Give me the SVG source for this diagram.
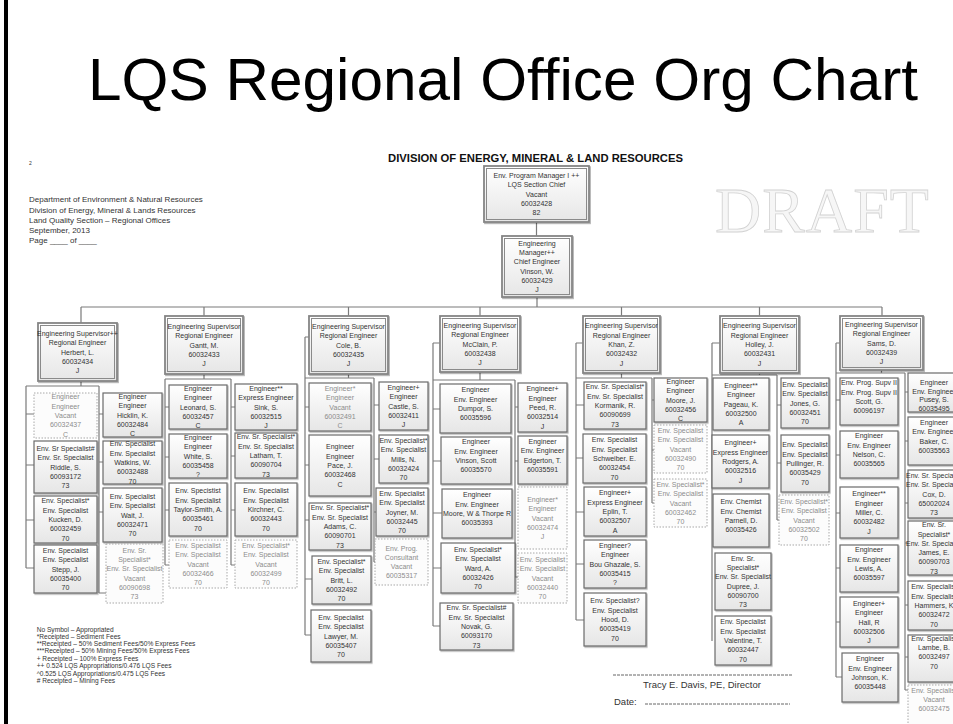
<svg xmlns="http://www.w3.org/2000/svg" width="953" height="724" viewBox="0 0 953 724">
<defs>
<linearGradient id="g" x1="0" y1="0" x2="0" y2="1"><stop offset="0" stop-color="#ffffff"/><stop offset="1" stop-color="#e6e6e6"/></linearGradient>
<filter id="sh" x="-10%" y="-10%" width="125%" height="125%"><feDropShadow dx="1" dy="1.2" stdDeviation="0.7" flood-color="#000" flood-opacity="0.3"/></filter>
</defs>
<style>
.t{font-family:"Liberation Sans",Arial,sans-serif;font-size:7px;fill:#333;text-anchor:middle}
.v{fill:#8c8c8c}
.bx{fill:url(#g);stroke:#6a6a6a;stroke-width:1.2;filter:url(#sh)}
.dv{fill:#fcfcfc;stroke:#a8a8a8;stroke-width:1;stroke-dasharray:1.5 1.5}
.so{fill:url(#g);stroke:#858585;stroke-width:1.8;filter:url(#sh)}
.si{fill:none;stroke:#8a8a8a;stroke-width:1}
.c{fill:none;stroke:#7a7a7a;stroke-width:1.2}
.h{font-family:"Liberation Sans",Arial,sans-serif;fill:#333}
</style>
<rect width="953" height="724" fill="#fff"/>
<rect x="4" y="0" width="4" height="724" fill="#000"/>
<text x="88" y="100" font-family="Liberation Sans, Arial, sans-serif" font-size="60" fill="#000" textLength="830" lengthAdjust="spacingAndGlyphs">LQS Regional Office Org Chart</text>
<text class="h" x="29" y="165" font-size="5">2</text>
<g class="h" font-size="8">
<text x="29" y="202">Department of Environment &amp; Natural Resources</text>
<text x="29" y="212.5">Division of Energy, Mineral &amp; Lands Resources</text>
<text x="29" y="222.7">Land Quality Section – Regional Offices</text>
<text x="29" y="232.7">September, 2013</text>
<text x="29" y="243.2">Page ____ of ____</text>
</g>
<text x="535.5" y="162" font-family="Liberation Sans, Arial, sans-serif" font-size="10" font-weight="bold" fill="#111" text-anchor="middle" textLength="295" lengthAdjust="spacingAndGlyphs">DIVISION OF ENERGY, MINERAL &amp; LAND RESOURCES</text>
<text x="715" y="232" font-family="Liberation Serif, serif" font-size="64" fill="#f6f6f6" stroke="#d2d2d2" stroke-width="0.8" letter-spacing="1">DRAFT</text>

<g id="connectors">
<path class="c" d="M536.5 222V236M537 297V307M81 307H882M81 307V323M204 307V316M348.5 307V316M480 307V316M621.5 307V316M759.5 307V316M882 307V316"/>
<path class="c" d="M81 381V386M26 386H99M26 386V568M26 414H34M26 465H34M26 520H34M26 568H34M99 386V593M99 414H103M99 462H103M99 512H103M99 593H106"/>
<path class="c" d="M204 374V379M165 379H231M165 379V565M165 407H169M165 457H169M165 510H169M165 565H169M231 379V565M231 407H235M231 456H235M231 510H235M231 565H235"/>
<path class="c" d="M305 337H309M305 337V635M305 378H374M348.5 374V378M305 407H309M305 465H309M305 520H309M305 579H312M305 635H311M374 378V562M374 405H379M374 459H379M374 512H376M374 562H375"/>
<path class="c" d="M433 343H440M433 343V626M433 380H515M480 372V380M433 409H440M433 461H441M433 513H442M433 568H441M433 626H440M515 380V577M515 407H518M515 461H518M515 577H518"/>
<path class="c" d="M576 343H583M576 343V620M576 378H652M621.5 373V378M576 405H584M576 458H583M576 512H584M576 564H584M576 620H584M652 378V503M652 400H654M652 450H654M652 503H654"/>
<path class="c" d="M712 343H720M712 343V641M712 375H777M759.5 373V375M777 375V520M777 405H781M777 463H781M777 520H779"/>
<path class="c" d="M836 343H840M836 343V677M836 373H905M881.5 370V373M836 400H840M836 455H840M836 513H840M836 568H840M836 622H840M836 677H842M905 373V690M905 392H908M905 441H908M905 503H908M905 543H908M905 605H908M905 657H908M905 690H908"/>
</g>

<g id="lqs-chief"><rect class="so" x="484" y="166" width="105" height="56"/><rect class="si" x="486.5" y="168.5" width="100" height="51"/><text class="t" x="536.5" y="177.9"><tspan x="536.5">Env. Program Manager I ++</tspan><tspan x="536.5" dy="9.3">LQS Section Chief</tspan><tspan x="536.5" dy="9.3">Vacant</tspan><tspan x="536.5" dy="9.3">60032428</tspan><tspan x="536.5" dy="9.3">82</tspan></text></g>
<g id="chief-engineer"><rect class="so" x="502" y="236" width="70" height="61"/><rect class="si" x="504.5" y="238.5" width="65" height="56"/><text class="t" x="537" y="245.75"><tspan x="537">Engineering</tspan><tspan x="537" dy="9.3">Manager++</tspan><tspan x="537" dy="9.3">Chief Engineer</tspan><tspan x="537" dy="9.3">Vinson, W.</tspan><tspan x="537" dy="9.3">60032429</tspan><tspan x="537" dy="9.3">J</tspan></text></g>

<g id="herbert"><rect class="so" x="38" y="323" width="79" height="58"/><rect class="si" x="40.5" y="325.5" width="74" height="53"/><text class="t" x="77.5" y="335.9"><tspan x="77.5">Engineering Supervisor++</tspan><tspan x="77.5" dy="9.3">Regional Engineer</tspan><tspan x="77.5" dy="9.3">Herbert, L.</tspan><tspan x="77.5" dy="9.3">60032434</tspan><tspan x="77.5" dy="9.3">J</tspan></text></g>
<g id="gantt"><rect class="so" x="165" y="316" width="78" height="58"/><rect class="si" x="167.5" y="318.5" width="73" height="53"/><text class="t" x="204" y="328.9"><tspan x="204">Engineering Supervisor</tspan><tspan x="204" dy="9.3">Regional Engineer</tspan><tspan x="204" dy="9.3">Gantt, M.</tspan><tspan x="204" dy="9.3">60032433</tspan><tspan x="204" dy="9.3">J</tspan></text></g>
<g id="cole"><rect class="so" x="309" y="316" width="79" height="58"/><rect class="si" x="311.5" y="318.5" width="74" height="53"/><text class="t" x="348.5" y="328.9"><tspan x="348.5">Engineering Supervisor</tspan><tspan x="348.5" dy="9.3">Regional Engineer</tspan><tspan x="348.5" dy="9.3">Cole, B.</tspan><tspan x="348.5" dy="9.3">60032435</tspan><tspan x="348.5" dy="9.3">J</tspan></text></g>
<g id="mcclain"><rect class="so" x="440" y="316" width="80" height="56"/><rect class="si" x="442.5" y="318.5" width="75" height="51"/><text class="t" x="480" y="327.9"><tspan x="480">Engineering Supervisor</tspan><tspan x="480" dy="9.3">Regional Engineer</tspan><tspan x="480" dy="9.3">McClain, P.</tspan><tspan x="480" dy="9.3">60032438</tspan><tspan x="480" dy="9.3">J</tspan></text></g>
<g id="khan"><rect class="so" x="583" y="316" width="77" height="57"/><rect class="si" x="585.5" y="318.5" width="72" height="52"/><text class="t" x="621.5" y="328.4"><tspan x="621.5">Engineering Supervisor</tspan><tspan x="621.5" dy="9.3">Regional Engineer</tspan><tspan x="621.5" dy="9.3">Khan, Z.</tspan><tspan x="621.5" dy="9.3">60032432</tspan><tspan x="621.5" dy="9.3">J</tspan></text></g>
<g id="holley"><rect class="so" x="720" y="316" width="79" height="57"/><rect class="si" x="722.5" y="318.5" width="74" height="52"/><text class="t" x="759.5" y="328.4"><tspan x="759.5">Engineering Supervisor</tspan><tspan x="759.5" dy="9.3">Regional Engineer</tspan><tspan x="759.5" dy="9.3">Holley, J.</tspan><tspan x="759.5" dy="9.3">60032431</tspan><tspan x="759.5" dy="9.3">J</tspan></text></g>
<g id="sams"><rect class="so" x="840" y="316" width="83" height="54"/><rect class="si" x="842.5" y="318.5" width="78" height="49"/><text class="t" x="881.5" y="326.9"><tspan x="881.5">Engineering Supervisor</tspan><tspan x="881.5" dy="9.3">Regional Engineer</tspan><tspan x="881.5" dy="9.3">Sams, D.</tspan><tspan x="881.5" dy="9.3">60032439</tspan><tspan x="881.5" dy="9.3">J</tspan></text></g>

<g id="c1l1"><rect class="dv" x="34" y="393" width="63" height="45"/><text class="t v" x="65.5" y="399.4"><tspan x="65.5">Engineer</tspan><tspan x="65.5" dy="9.3">Engineer</tspan><tspan x="65.5" dy="9.3">Vacant</tspan><tspan x="65.5" dy="9.3">60032437</tspan><tspan x="65.5" dy="9.3">C</tspan></text></g>
<g id="c1l2"><rect class="bx" x="34" y="441" width="63" height="52"/><text class="t" x="65.5" y="450.9"><tspan x="65.5">Env. Sr Specialist#</tspan><tspan x="65.5" dy="9.3">Env. Sr. Specialist</tspan><tspan x="65.5" dy="9.3">Riddle, S.</tspan><tspan x="65.5" dy="9.3">60093172</tspan><tspan x="65.5" dy="9.3">73</tspan></text></g>
<g id="c1l3"><rect class="bx" x="34" y="496" width="63" height="47"/><text class="t" x="65.5" y="503.4"><tspan x="65.5">Env. Specialist*</tspan><tspan x="65.5" dy="9.3">Env. Specialist</tspan><tspan x="65.5" dy="9.3">Kucken, D.</tspan><tspan x="65.5" dy="9.3">60032459</tspan><tspan x="65.5" dy="9.3">70</tspan></text></g>
<g id="c1l4"><rect class="bx" x="34" y="545" width="63" height="48"/><text class="t" x="65.5" y="552.9"><tspan x="65.5">Env. Specialist</tspan><tspan x="65.5" dy="9.3">Env. Specialist</tspan><tspan x="65.5" dy="9.3">Stepp, J.</tspan><tspan x="65.5" dy="9.3">60035400</tspan><tspan x="65.5" dy="9.3">70</tspan></text></g>
<g id="c1r1"><rect class="bx" x="103" y="393" width="59" height="44"/><text class="t" x="132.5" y="398.9"><tspan x="132.5">Engineer</tspan><tspan x="132.5" dy="9.3">Engineer</tspan><tspan x="132.5" dy="9.3">Hicklin, K.</tspan><tspan x="132.5" dy="9.3">60032484</tspan><tspan x="132.5" dy="9.3">C</tspan></text></g>
<g id="c1r2"><rect class="bx" x="103" y="441" width="59" height="43"/><text class="t" x="132.5" y="446.4"><tspan x="132.5">Env. Specialist</tspan><tspan x="132.5" dy="9.3">Env. Specialist</tspan><tspan x="132.5" dy="9.3">Watkins, W.</tspan><tspan x="132.5" dy="9.3">60032488</tspan><tspan x="132.5" dy="9.3">70</tspan></text></g>
<g id="c1r3"><rect class="bx" x="103" y="488" width="59" height="54"/><text class="t" x="132.5" y="498.9"><tspan x="132.5">Env. Specialist</tspan><tspan x="132.5" dy="9.3">Env. Specialist</tspan><tspan x="132.5" dy="9.3">Wait, J.</tspan><tspan x="132.5" dy="9.3">60032471</tspan><tspan x="132.5" dy="9.3">70</tspan></text></g>
<g id="c1r4"><rect class="dv" x="106" y="544" width="57" height="59"/><text class="t v" x="134.5" y="552.75"><tspan x="134.5">Env. Sr.</tspan><tspan x="134.5" dy="9.3">Specialist*</tspan><tspan x="134.5" dy="9.3">Env. Sr. Specialist</tspan><tspan x="134.5" dy="9.3">Vacant</tspan><tspan x="134.5" dy="9.3">60090698</tspan><tspan x="134.5" dy="9.3">73</tspan></text></g>

<g id="c2l1"><rect class="bx" x="169" y="385" width="58" height="44"/><text class="t" x="198" y="390.9"><tspan x="198">Engineer</tspan><tspan x="198" dy="9.3">Engineer</tspan><tspan x="198" dy="9.3">Leonard, S.</tspan><tspan x="198" dy="9.3">60032457</tspan><tspan x="198" dy="9.3">C</tspan></text></g>
<g id="c2l2"><rect class="bx" x="169" y="434" width="58" height="44"/><text class="t" x="198" y="439.9"><tspan x="198">Engineer</tspan><tspan x="198" dy="9.3">Engineer</tspan><tspan x="198" dy="9.3">White, S.</tspan><tspan x="198" dy="9.3">60035458</tspan><tspan x="198" dy="9.3">?</tspan></text></g>
<g id="c2l3"><rect class="bx" x="169" y="483" width="58" height="53"/><text class="t" x="198" y="493.4"><tspan x="198">Env. Specistist</tspan><tspan x="198" dy="9.3">Env. Specialist</tspan><tspan x="198" dy="9.3">Taylor-Smith, A.</tspan><tspan x="198" dy="9.3">60035461</tspan><tspan x="198" dy="9.3">70</tspan></text></g>
<g id="c2l4"><rect class="dv" x="169" y="540" width="58" height="48"/><text class="t v" x="198" y="547.9"><tspan x="198">Env. Specialist</tspan><tspan x="198" dy="9.3">Env. Specialist</tspan><tspan x="198" dy="9.3">Vacant</tspan><tspan x="198" dy="9.3">60032466</tspan><tspan x="198" dy="9.3">70</tspan></text></g>
<g id="c2r1"><rect class="bx" x="235" y="384" width="62" height="46"/><text class="t" x="266" y="390.9"><tspan x="266">Engineer**</tspan><tspan x="266" dy="9.3">Express Engineer</tspan><tspan x="266" dy="9.3">Sink, S.</tspan><tspan x="266" dy="9.3">60032515</tspan><tspan x="266" dy="9.3">J</tspan></text></g>
<g id="c2r2"><rect class="bx" x="235" y="433" width="62" height="45"/><text class="t" x="266" y="439.4"><tspan x="266">Env. Sr. Specialist*</tspan><tspan x="266" dy="9.3">Env. Sr. Specialist</tspan><tspan x="266" dy="9.3">Latham, T.</tspan><tspan x="266" dy="9.3">60090704</tspan><tspan x="266" dy="9.3">73</tspan></text></g>
<g id="c2r3"><rect class="bx" x="235" y="483" width="62" height="53"/><text class="t" x="266" y="493.4"><tspan x="266">Env. Specialist</tspan><tspan x="266" dy="9.3">Env. Specialist</tspan><tspan x="266" dy="9.3">Kirchner, C.</tspan><tspan x="266" dy="9.3">60032443</tspan><tspan x="266" dy="9.3">70</tspan></text></g>
<g id="c2r4"><rect class="dv" x="235" y="540" width="62" height="48"/><text class="t v" x="266" y="547.9"><tspan x="266">Env. Specialist*</tspan><tspan x="266" dy="9.3">Env. Specialist</tspan><tspan x="266" dy="9.3">Vacant</tspan><tspan x="266" dy="9.3">60032499</tspan><tspan x="266" dy="9.3">70</tspan></text></g>

<g id="c3l1"><rect class="bx" x="309" y="383" width="62" height="48"/><text class="t v" x="340" y="390.9"><tspan x="340">Engineer*</tspan><tspan x="340" dy="9.3">Engineer</tspan><tspan x="340" dy="9.3">Vacant</tspan><tspan x="340" dy="9.3">60032491</tspan><tspan x="340" dy="9.3">C</tspan></text></g>
<g id="c3l2"><rect class="bx" x="309" y="435" width="62" height="61"/><text class="t" x="340" y="449.4"><tspan x="340">Engineer</tspan><tspan x="340" dy="9.3">Engineer</tspan><tspan x="340" dy="9.3">Pace, J.</tspan><tspan x="340" dy="9.3">60032468</tspan><tspan x="340" dy="9.3">C</tspan></text></g>
<g id="c3l3"><rect class="bx" x="309" y="503" width="62" height="47"/><text class="t" x="340" y="510.4"><tspan x="340">Env. Sr. Specialist*</tspan><tspan x="340" dy="9.3">Env. Sr. Specialist</tspan><tspan x="340" dy="9.3">Adams, C.</tspan><tspan x="340" dy="9.3">60090701</tspan><tspan x="340" dy="9.3">73</tspan></text></g>
<g id="c3l4"><rect class="bx" x="312" y="556" width="59" height="48"/><text class="t" x="341.5" y="563.9"><tspan x="341.5">Env. Specialist*</tspan><tspan x="341.5" dy="9.3">Env. Specialist</tspan><tspan x="341.5" dy="9.3">Britt, L.</tspan><tspan x="341.5" dy="9.3">60032492</tspan><tspan x="341.5" dy="9.3">70</tspan></text></g>
<g id="c3l5"><rect class="bx" x="311" y="610" width="60" height="52"/><text class="t" x="341" y="619.9"><tspan x="341">Env. Specialist</tspan><tspan x="341" dy="9.3">Env. Specialist</tspan><tspan x="341" dy="9.3">Lawyer, M.</tspan><tspan x="341" dy="9.3">60035407</tspan><tspan x="341" dy="9.3">70</tspan></text></g>
<g id="c3r1"><rect class="bx" x="379" y="382" width="49" height="48"/><text class="t" x="403.5" y="389.9"><tspan x="403.5">Engineer+</tspan><tspan x="403.5" dy="9.3">Engineer</tspan><tspan x="403.5" dy="9.3">Castle, S.</tspan><tspan x="403.5" dy="9.3">60032411</tspan><tspan x="403.5" dy="9.3">J</tspan></text></g>
<g id="c3r2"><rect class="bx" x="379" y="435" width="49" height="48"/><text class="t" x="403.5" y="442.9"><tspan x="403.5">Env. Specialist*</tspan><tspan x="403.5" dy="9.3">Env. Specialist</tspan><tspan x="403.5" dy="9.3">Mills, N.</tspan><tspan x="403.5" dy="9.3">60032424</tspan><tspan x="403.5" dy="9.3">70</tspan></text></g>
<g id="c3r3"><rect class="bx" x="376" y="488" width="52" height="48"/><text class="t" x="402" y="495.9"><tspan x="402">Env. Specialist</tspan><tspan x="402" dy="9.3">Env. Specialist</tspan><tspan x="402" dy="9.3">Joyner, M.</tspan><tspan x="402" dy="9.3">60032445</tspan><tspan x="402" dy="9.3">70</tspan></text></g>
<g id="c3r4"><rect class="dv" x="375" y="539" width="53" height="46"/><text class="t v" x="401.5" y="550.5"><tspan x="401.5">Env. Prog.</tspan><tspan x="401.5" dy="9.3">Consultant</tspan><tspan x="401.5" dy="9.3">Vacant</tspan><tspan x="401.5" dy="9.3">60035317</tspan></text></g>

<g id="c4l1"><rect class="bx" x="440" y="384" width="71" height="49"/><text class="t" x="475.5" y="392.4"><tspan x="475.5">Engineer</tspan><tspan x="475.5" dy="9.3">Env. Engineer</tspan><tspan x="475.5" dy="9.3">Dumpor, S.</tspan><tspan x="475.5" dy="9.3">60035596</tspan></text></g>
<g id="c4l2"><rect class="bx" x="441" y="437" width="70" height="47"/><text class="t" x="476" y="444.4"><tspan x="476">Engineer</tspan><tspan x="476" dy="9.3">Env. Engineer</tspan><tspan x="476" dy="9.3">Vinson, Scott</tspan><tspan x="476" dy="9.3">60035570</tspan></text></g>
<g id="c4l3"><rect class="bx" x="442" y="489" width="70" height="49"/><text class="t" x="477" y="497.4"><tspan x="477">Engineer</tspan><tspan x="477" dy="9.3">Env. Engineer</tspan><tspan x="477" dy="9.3">Moore, W &amp; Thorpe R</tspan><tspan x="477" dy="9.3">60035393</tspan></text></g>
<g id="c4l4"><rect class="bx" x="441" y="543" width="74" height="50"/><text class="t" x="478" y="551.9"><tspan x="478">Env. Specialist*</tspan><tspan x="478" dy="9.3">Env. Specialist</tspan><tspan x="478" dy="9.3">Ward, A.</tspan><tspan x="478" dy="9.3">60032426</tspan><tspan x="478" dy="9.3">70</tspan></text></g>
<g id="c4l5"><rect class="bx" x="440" y="603" width="73" height="47"/><text class="t" x="476.5" y="610.4"><tspan x="476.5">Env. Sr. Specialist#</tspan><tspan x="476.5" dy="9.3">Env. Sr. Specialist</tspan><tspan x="476.5" dy="9.3">Novak, G.</tspan><tspan x="476.5" dy="9.3">60093170</tspan><tspan x="476.5" dy="9.3">73</tspan></text></g>
<g id="c4r1"><rect class="bx" x="518" y="383" width="49" height="49"/><text class="t" x="542.5" y="391.4"><tspan x="542.5">Engineer+</tspan><tspan x="542.5" dy="9.3">Engineer</tspan><tspan x="542.5" dy="9.3">Peed, R.</tspan><tspan x="542.5" dy="9.3">60032514</tspan><tspan x="542.5" dy="9.3">J</tspan></text></g>
<g id="c4r2"><rect class="bx" x="518" y="436" width="49" height="48"/><text class="t" x="542.5" y="443.9"><tspan x="542.5">Engineer</tspan><tspan x="542.5" dy="9.3">Env. Engineer</tspan><tspan x="542.5" dy="9.3">Edgerton, T.</tspan><tspan x="542.5" dy="9.3">60035591</tspan></text></g>
<g id="c4r3"><rect class="dv" x="518" y="487" width="49" height="62"/><text class="t v" x="542.5" y="501.9"><tspan x="542.5">Engineer*</tspan><tspan x="542.5" dy="9.3">Engineer</tspan><tspan x="542.5" dy="9.3">Vacant</tspan><tspan x="542.5" dy="9.3">60032474</tspan><tspan x="542.5" dy="9.3">J</tspan></text></g>
<g id="c4r4"><rect class="dv" x="518" y="553" width="49" height="50"/><text class="t v" x="542.5" y="561.9"><tspan x="542.5">Env. Specialist</tspan><tspan x="542.5" dy="9.3">Env. Specialist</tspan><tspan x="542.5" dy="9.3">Vacant</tspan><tspan x="542.5" dy="9.3">60032440</tspan><tspan x="542.5" dy="9.3">70</tspan></text></g>

<g id="c5l1"><rect class="bx" x="584" y="382" width="62" height="47"/><text class="t" x="615" y="389.4"><tspan x="615">Env. Sr. Specialist*</tspan><tspan x="615" dy="9.3">Env. Sr. Specialist</tspan><tspan x="615" dy="9.3">Kormanik, R.</tspan><tspan x="615" dy="9.3">60090699</tspan><tspan x="615" dy="9.3">73</tspan></text></g>
<g id="c5l2"><rect class="bx" x="583" y="434" width="63" height="49"/><text class="t" x="614.5" y="442.4"><tspan x="614.5">Env.  Specialist</tspan><tspan x="614.5" dy="9.3">Env. Specialist</tspan><tspan x="614.5" dy="9.3">Schweiber. E.</tspan><tspan x="614.5" dy="9.3">60032454</tspan><tspan x="614.5" dy="9.3">70</tspan></text></g>
<g id="c5l3"><rect class="bx" x="584" y="487" width="62" height="49"/><text class="t" x="615" y="495.4"><tspan x="615">Engineer+</tspan><tspan x="615" dy="9.3">Express Engineer</tspan><tspan x="615" dy="9.3">Eplin, T.</tspan><tspan x="615" dy="9.3">60032507</tspan><tspan x="615" dy="9.3">A</tspan></text></g>
<g id="c5l4"><rect class="bx" x="584" y="540" width="62" height="48"/><text class="t" x="615" y="547.9"><tspan x="615">Engineer?</tspan><tspan x="615" dy="9.3">Engineer</tspan><tspan x="615" dy="9.3">Bou Ghazale, S.</tspan><tspan x="615" dy="9.3">60035415</tspan><tspan x="615" dy="9.3">?</tspan></text></g>
<g id="c5l5"><rect class="bx" x="584" y="593" width="62" height="53"/><text class="t" x="615" y="603.4"><tspan x="615">Env. Specialist?</tspan><tspan x="615" dy="9.3">Env. Specialist</tspan><tspan x="615" dy="9.3">Hood, D.</tspan><tspan x="615" dy="9.3">60035419</tspan><tspan x="615" dy="9.3">70</tspan></text></g>
<g id="c5r1"><rect class="bx" x="654" y="378" width="53" height="44"/><text class="t" x="680.5" y="383.9"><tspan x="680.5">Engineer</tspan><tspan x="680.5" dy="9.3">Engineer</tspan><tspan x="680.5" dy="9.3">Moore, J.</tspan><tspan x="680.5" dy="9.3">60032456</tspan><tspan x="680.5" dy="9.3">C</tspan></text></g>
<g id="c5r2"><rect class="dv" x="654" y="425" width="53" height="48"/><text class="t v" x="680.5" y="432.9"><tspan x="680.5">Env. Specialist</tspan><tspan x="680.5" dy="9.3">Env. Specialist</tspan><tspan x="680.5" dy="9.3">Vacant</tspan><tspan x="680.5" dy="9.3">60032490</tspan><tspan x="680.5" dy="9.3">70</tspan></text></g>
<g id="c5r3"><rect class="dv" x="654" y="479" width="53" height="48"/><text class="t v" x="680.5" y="486.9"><tspan x="680.5">Env. Specialist*</tspan><tspan x="680.5" dy="9.3">Env. Specialist</tspan><tspan x="680.5" dy="9.3">Vacant</tspan><tspan x="680.5" dy="9.3">60032462</tspan><tspan x="680.5" dy="9.3">70</tspan></text></g>

<g id="c6l1"><rect class="bx" x="713" y="378" width="56" height="52"/><text class="t" x="741" y="387.9"><tspan x="741">Engineer**</tspan><tspan x="741" dy="9.3">Engineer</tspan><tspan x="741" dy="9.3">Pageau, K.</tspan><tspan x="741" dy="9.3">60032500</tspan><tspan x="741" dy="9.3">A</tspan></text></g>
<g id="c6l2"><rect class="bx" x="712" y="435" width="57" height="53"/><text class="t" x="740.5" y="445.4"><tspan x="740.5">Engineer+</tspan><tspan x="740.5" dy="9.3">Express Engineer</tspan><tspan x="740.5" dy="9.3">Rodgers, A.</tspan><tspan x="740.5" dy="9.3">60032516</tspan><tspan x="740.5" dy="9.3">J</tspan></text></g>
<g id="c6l3"><rect class="bx" x="713" y="494" width="56" height="53"/><text class="t" x="741" y="504.4"><tspan x="741">Env. Chemist</tspan><tspan x="741" dy="9.3">Env. Chemist</tspan><tspan x="741" dy="9.3">Parnell, D.</tspan><tspan x="741" dy="9.3">60035426</tspan></text></g>
<g id="c6l4"><rect class="bx" x="715" y="553" width="56" height="57"/><text class="t" x="743" y="560.75"><tspan x="743">Env. Sr.</tspan><tspan x="743" dy="9.3">Specialist*</tspan><tspan x="743" dy="9.3">Env. Sr. Specialist</tspan><tspan x="743" dy="9.3">Dupree, J.</tspan><tspan x="743" dy="9.3">60090700</tspan><tspan x="743" dy="9.3">73</tspan></text></g>
<g id="c6l5"><rect class="bx" x="715" y="616" width="56" height="49"/><text class="t" x="743" y="624.4"><tspan x="743">Env. Specialist</tspan><tspan x="743" dy="9.3">Env. Specialist</tspan><tspan x="743" dy="9.3">Valentine, T.</tspan><tspan x="743" dy="9.3">60032447</tspan><tspan x="743" dy="9.3">70</tspan></text></g>
<g id="c6r1"><rect class="bx" x="781" y="378" width="48" height="50"/><text class="t" x="805" y="386.9"><tspan x="805">Env. Specialist</tspan><tspan x="805" dy="9.3">Env. Specialist</tspan><tspan x="805" dy="9.3">Jones, G.</tspan><tspan x="805" dy="9.3">60032451</tspan><tspan x="805" dy="9.3">70</tspan></text></g>
<g id="c6r2"><rect class="bx" x="781" y="435" width="48" height="57"/><text class="t" x="805" y="447.4"><tspan x="805">Env. Specialist</tspan><tspan x="805" dy="9.3">Env. Specialist</tspan><tspan x="805" dy="9.3">Pullinger, R.</tspan><tspan x="805" dy="9.3">60035429</tspan><tspan x="805" dy="9.3">70</tspan></text></g>
<g id="c6r3"><rect class="dv" x="779" y="495" width="50" height="50"/><text class="t v" x="804" y="503.9"><tspan x="804">Env. Specialist*</tspan><tspan x="804" dy="9.3">Env. Specialist</tspan><tspan x="804" dy="9.3">Vacant</tspan><tspan x="804" dy="9.3">60032502</tspan><tspan x="804" dy="9.3">70</tspan></text></g>

<g id="c7l1"><rect class="bx" x="840" y="378" width="58" height="47"/><text class="t" x="869" y="385.4"><tspan x="869">Env. Prog. Supv II</tspan><tspan x="869" dy="9.3">Env. Prog. Supv II</tspan><tspan x="869" dy="9.3">Scott, G.</tspan><tspan x="869" dy="9.3">60096197</tspan></text></g>
<g id="c7l2"><rect class="bx" x="840" y="431" width="58" height="47"/><text class="t" x="869" y="438.4"><tspan x="869">Engineer</tspan><tspan x="869" dy="9.3">Env. Engineer</tspan><tspan x="869" dy="9.3">Nelson, C.</tspan><tspan x="869" dy="9.3">60035565</tspan></text></g>
<g id="c7l3"><rect class="bx" x="840" y="487" width="58" height="51"/><text class="t" x="869" y="496.4"><tspan x="869">Engineer**</tspan><tspan x="869" dy="9.3">Engineer</tspan><tspan x="869" dy="9.3">Miller, C.</tspan><tspan x="869" dy="9.3">60032482</tspan><tspan x="869" dy="9.3">J</tspan></text></g>
<g id="c7l4"><rect class="bx" x="840" y="545" width="58" height="47"/><text class="t" x="869" y="552.4"><tspan x="869">Engineer</tspan><tspan x="869" dy="9.3">Env. Engineer</tspan><tspan x="869" dy="9.3">Lewis, A.</tspan><tspan x="869" dy="9.3">60035597</tspan></text></g>
<g id="c7l5"><rect class="bx" x="840" y="597" width="58" height="50"/><text class="t" x="869" y="605.9"><tspan x="869">Engineer+</tspan><tspan x="869" dy="9.3">Engineer</tspan><tspan x="869" dy="9.3">Hall, R</tspan><tspan x="869" dy="9.3">60032506</tspan><tspan x="869" dy="9.3">J</tspan></text></g>
<g id="c7l6"><rect class="bx" x="842" y="653" width="56" height="49"/><text class="t" x="870" y="661.4"><tspan x="870">Engineer</tspan><tspan x="870" dy="9.3">Env. Engineer</tspan><tspan x="870" dy="9.3">Johnson, K.</tspan><tspan x="870" dy="9.3">60035448</tspan></text></g>
<g id="c7r1"><rect class="bx" x="908" y="373" width="52" height="39"/><text class="t" x="934" y="385"><tspan x="934">Engineer</tspan><tspan x="934" dy="8.6">Env. Engineer</tspan><tspan x="934" dy="8.6">Pusey, S.</tspan><tspan x="934" dy="8.6">60035495</tspan></text></g>
<g id="c7r2"><rect class="bx" x="908" y="417" width="52" height="48"/><text class="t" x="934" y="424.9"><tspan x="934">Engineer</tspan><tspan x="934" dy="9.3">Env. Engineer</tspan><tspan x="934" dy="9.3">Baker, C.</tspan><tspan x="934" dy="9.3">60035563</tspan></text></g>
<g id="c7r3"><rect class="bx" x="908" y="470" width="52" height="48"/><text class="t" x="934" y="477.9"><tspan x="934">Env. Sr. Specialist</tspan><tspan x="934" dy="9.3">Env. Sr. Specialist</tspan><tspan x="934" dy="9.3">Cox, D.</tspan><tspan x="934" dy="9.3">65002024</tspan><tspan x="934" dy="9.3">73</tspan></text></g>
<g id="c7r4"><rect class="bx" x="908" y="521" width="52" height="54"/><text class="t" x="934" y="527.25"><tspan x="934">Env. Sr.</tspan><tspan x="934" dy="9.3">Specialist*</tspan><tspan x="934" dy="9.3">Env. Sr. Specialist</tspan><tspan x="934" dy="9.3">James, E.</tspan><tspan x="934" dy="9.3">60090703</tspan><tspan x="934" dy="9.3">73</tspan></text></g>
<g id="c7r5"><rect class="bx" x="908" y="581" width="52" height="49"/><text class="t" x="934" y="589.4"><tspan x="934">Env. Specialist</tspan><tspan x="934" dy="9.3">Env. Specialist</tspan><tspan x="934" dy="9.3">Hammers, K</tspan><tspan x="934" dy="9.3">60032472</tspan><tspan x="934" dy="9.3">70</tspan></text></g>
<g id="c7r6"><rect class="bx" x="908" y="635" width="52" height="47"/><text class="t" x="934" y="640.8"><tspan x="934">Env. Specialist</tspan><tspan x="934" dy="9.3">Lambe, B.</tspan><tspan x="934" dy="9.3">60032497</tspan><tspan x="934" dy="9.3">70</tspan></text></g>
<g id="c7r7"><rect class="dv" x="908" y="685" width="52" height="45"/><text class="t v" x="934" y="693.2"><tspan x="934">Env. Specialist</tspan><tspan x="934" dy="9">Vacant</tspan><tspan x="934" dy="9">60032475</tspan></text></g>

<g class="h" font-size="6.6">
<text x="36.7" y="631.5">No Symbol – Appropriated</text>
<text x="36.7" y="638.9">*Receipted – Sediment Fees</text>
<text x="36.7" y="646.2">**Receipted – 50% Sediment Fees/50% Express Fees</text>
<text x="36.7" y="653.4">***Receipted – 50% Mining Fees/50% Express Fees</text>
<text x="36.7" y="660.9">+ Receipted – 100% Express Fees</text>
<text x="36.7" y="668.2">++ 0.524 LQS Appropriations/0.476 LQS Fees</text>
<text x="36.7" y="675.5">^0.525 LQS Appropriations/0.475 LQS Fees</text>
<text x="36.7" y="682.9"># Receipted – Mining Fees</text>
</g>
<g id="signature">
<path d="M613 675H792M645 704H790" stroke="#555" stroke-width="0.9" stroke-dasharray="3 1" fill="none"/>
<text class="h" x="702" y="688" font-size="9.5" text-anchor="middle">Tracy E. Davis, PE, Director</text>
<text class="h" x="614" y="705" font-size="9.5">Date:</text>
</g>
</svg>
